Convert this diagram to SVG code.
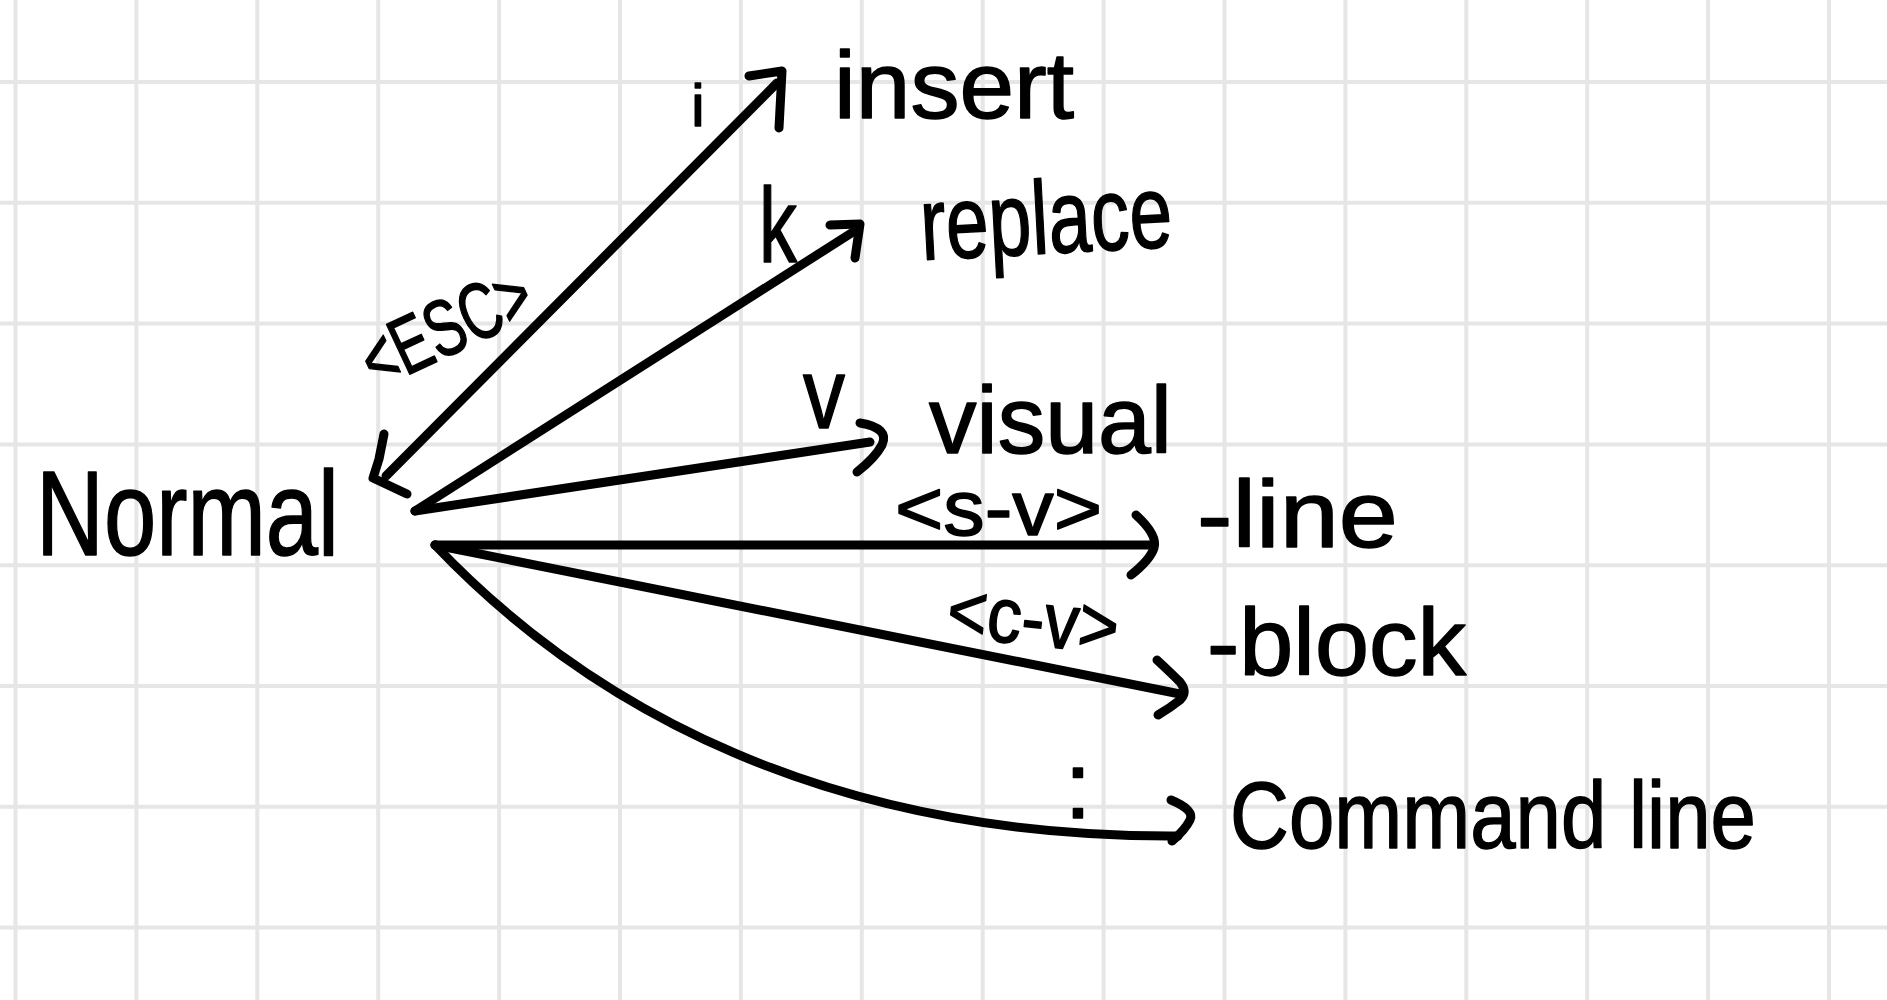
<svg xmlns="http://www.w3.org/2000/svg" width="1887" height="1000" viewBox="0 0 1887 1000">
<style>
.grid{stroke:#e6e6e6;stroke-width:4;fill:none}
.ink{stroke:#000;stroke-width:9;fill:none;stroke-linecap:round;stroke-linejoin:round}
.t{font-family:"Liberation Sans",Arial,sans-serif;fill:#000;stroke:#000;stroke-width:1.5;stroke-linejoin:round}
</style>
<rect width="1887" height="1000" fill="#fff"/>
<g id="grid" class="grid">
<path d="M15.5,0V1000M136.4,0V1000M257.3,0V1000M378.2,0V1000M499.1,0V1000M620,0V1000M740.9,0V1000M861.8,0V1000M982.7,0V1000M1103.6,0V1000M1224.5,0V1000M1345.4,0V1000M1466.3,0V1000M1587.2,0V1000M1708.1,0V1000M1829,0V1000"/>
<path d="M0,82H1887M0,202.8H1887M0,323.6H1887M0,444.4H1887M0,565.2H1887M0,686H1887M0,806.8H1887M0,927.6H1887"/>
</g>
<g id="connectors">
<g id="edge-insert-esc">
<path class="ink" d="M386,476L777,83"/>
<path class="ink" d="M749,76L782,71L779,128"/>
<path class="ink" d="M384,434L379,459L373,478L407,494"/>
<text class="t" x="698" y="126" font-size="60" text-anchor="middle">i</text>
<text class="t" font-size="80" textLength="180" lengthAdjust="spacingAndGlyphs" transform="translate(376,390) rotate(-25)">&lt;ESC&gt;</text>
</g>
<g id="edge-replace">
<path class="ink" d="M415,511L853,232"/>
<path class="ink" d="M830,225L860,224L855,258"/>
<text class="t" x="759" y="262" font-size="105" textLength="38" lengthAdjust="spacingAndGlyphs">k</text>
</g>
<g id="edge-visual">
<path class="ink" d="M415,511L870,442"/>
<path class="ink" d="M860,423Q890,428 882,445Q875,458 857,472"/>
<text class="t" x="803" y="428" font-size="100" textLength="42" lengthAdjust="spacingAndGlyphs">v</text>
</g>
<g id="edge-visual-line">
<path class="ink" d="M435,545L1151,545"/>
<path class="ink" d="M1136,515Q1158,535 1154,548Q1150,560 1131,575"/>
<text class="t" x="895" y="535" font-size="78" textLength="207" lengthAdjust="spacingAndGlyphs">&lt;s-v&gt;</text>
</g>
<g id="edge-visual-block">
<path class="ink" d="M435,545L1180,694"/>
<path class="ink" d="M1157,660Q1170,672 1180,682Q1188,692 1180,700Q1170,708 1158,715"/>
<text class="t" x="945" y="636" font-size="78" textLength="172" lengthAdjust="spacingAndGlyphs" transform="rotate(6 945 636)">&lt;c-v&gt;</text>
</g>
<g id="edge-command">
<path class="ink" d="M435,545C592,710 830,838 1178,836"/>
<path class="ink" d="M1171,800Q1195,810 1190,820Q1185,830 1172,841"/>
<text class="t" x="1078" y="818" font-size="95" text-anchor="middle">:</text>
</g>
</g>
<g id="node-normal"><text class="t" x="36" y="555" font-size="120" textLength="303" lengthAdjust="spacingAndGlyphs">Normal</text></g>
<g id="node-insert"><text class="t" x="834" y="118" font-size="95" textLength="240" lengthAdjust="spacingAndGlyphs">insert</text></g>
<g id="node-replace"><text class="t" x="922" y="260" font-size="104" textLength="252" lengthAdjust="spacingAndGlyphs" transform="rotate(-3 922 260)">replace</text></g>
<g id="node-visual"><text class="t" x="929" y="453" font-size="95" textLength="243" lengthAdjust="spacingAndGlyphs">visual</text></g>
<g id="node-line"><text class="t" x="1197" y="547" font-size="95" textLength="201" lengthAdjust="spacingAndGlyphs">-line</text></g>
<g id="node-block"><text class="t" x="1207" y="675" font-size="95" textLength="259" lengthAdjust="spacingAndGlyphs">-block</text></g>
<g id="node-command"><text class="t" x="1230" y="848" font-size="95" textLength="526" lengthAdjust="spacingAndGlyphs">Command line</text></g>
</svg>
